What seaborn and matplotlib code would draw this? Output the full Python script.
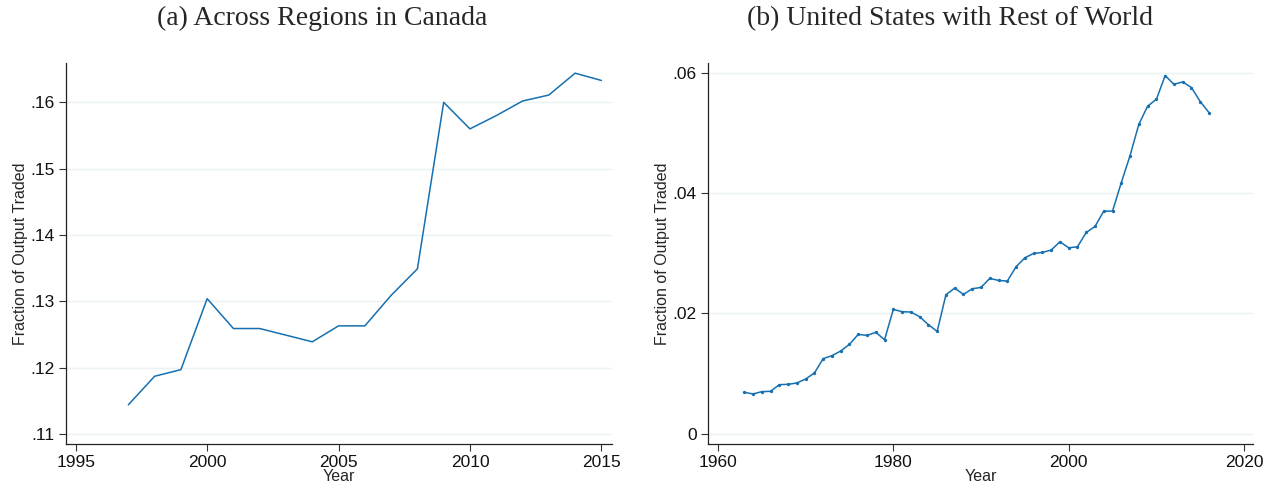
import numpy as np
import pandas as pd
import seaborn as sns
import matplotlib.pyplot as plt
from matplotlib.ticker import FuncFormatter

# (a) Canada, inter-regional trade share
canada_years = list(range(1997, 2016))
canada_share = [0.1144, 0.1187, 0.1197, 0.1304, 0.1259, 0.1259, 0.1249, 0.1239,
                0.1263, 0.1263, 0.1309, 0.1349, 0.1600, 0.1560, 0.1580, 0.1602,
                0.1611, 0.1644, 0.1633]

# (b) United States with rest of world
us_years = list(range(1963, 2017))
us_share = [0.00691, 0.00664, 0.00702, 0.00708, 0.00818, 0.00824, 0.00846, 0.00912,
            0.01012, 0.01250, 0.01300, 0.01377, 0.01488, 0.01653, 0.01637, 0.01687,
            0.01565, 0.02068, 0.02030, 0.02024, 0.01947, 0.01814, 0.01703, 0.02312,
            0.02422, 0.02317, 0.02411, 0.02433, 0.02583, 0.02549, 0.02538, 0.02776,
            0.02925, 0.02997, 0.03014, 0.03053, 0.03191, 0.03091, 0.03108, 0.03346,
            0.03445, 0.03700, 0.03700, 0.04175, 0.04623, 0.05143, 0.05442, 0.05558,
            0.05950, 0.05807, 0.05845, 0.05751, 0.05519, 0.05336]

canada = pd.DataFrame({"Year": canada_years, "share": canada_share})
us = pd.DataFrame({"Year": us_years, "share": us_share})

sns.set_style("ticks")
plt.rcParams["font.family"] = ["Liberation Sans", "DejaVu Sans"]

line_color = "#1670b0"
grid_color = "#eaf2f3"

fig = plt.figure(figsize=(12.7, 4.9), dpi=100)
ax1 = fig.add_axes([0.052, 0.094, 0.430, 0.777])
ax2 = fig.add_axes([0.5575, 0.094, 0.429, 0.777])


def stata_fmt(v, pos):
    s = ("%.2f" % v).rstrip("0").rstrip(".")
    if s.startswith("0."):
        s = s[1:]
    if s in ("", "-0"):
        s = "0"
    return s


sns.lineplot(data=canada, x="Year", y="share", ax=ax1, color=line_color, linewidth=1.1)
sns.lineplot(data=us, x="Year", y="share", ax=ax2, color=line_color, linewidth=1.1,
             marker="o", markersize=2.4, markeredgewidth=0)

ax1.set_xlim(1994.63, 2015.41)
ax1.set_ylim(0.1085, 0.1659)
ax1.set_xticks([1995, 2000, 2005, 2010, 2015])
ax1.set_yticks([0.11, 0.12, 0.13, 0.14, 0.15, 0.16])

ax2.set_xlim(1958.87, 2021.0)
ax2.set_ylim(-0.00166, 0.06156)
ax2.set_xticks([1960, 1980, 2000, 2020])
ax2.set_yticks([0, 0.02, 0.04, 0.06])

for ax in (ax1, ax2):
    ax.yaxis.set_major_formatter(FuncFormatter(stata_fmt))
    ax.grid(axis="y", color=grid_color, linewidth=1.0)
    ax.set_axisbelow(True)
    for side in ("top", "right"):
        ax.spines[side].set_visible(False)
    for side in ("left", "bottom"):
        ax.spines[side].set_color("#222222")
        ax.spines[side].set_linewidth(0.9)
    ax.tick_params(axis="both", labelsize=12.5, length=5, width=0.8, color="#333333",
                   labelcolor="#111111", pad=3)
    ax.set_xlabel("Year", fontsize=11.5, labelpad=-1)
    ax.set_ylabel("Fraction of Output Traded", fontsize=11.5, labelpad=2)

fig.text(0.254, 0.962, "(a) Across Regions in Canada", ha="center", va="center",
         fontsize=20, family=["Liberation Serif", "DejaVu Serif"])
fig.text(0.748, 0.962, "(b) United States with Rest of World", ha="center", va="center",
         fontsize=20, family=["Liberation Serif", "DejaVu Serif"])

fig.savefig("out.png", dpi=100)
